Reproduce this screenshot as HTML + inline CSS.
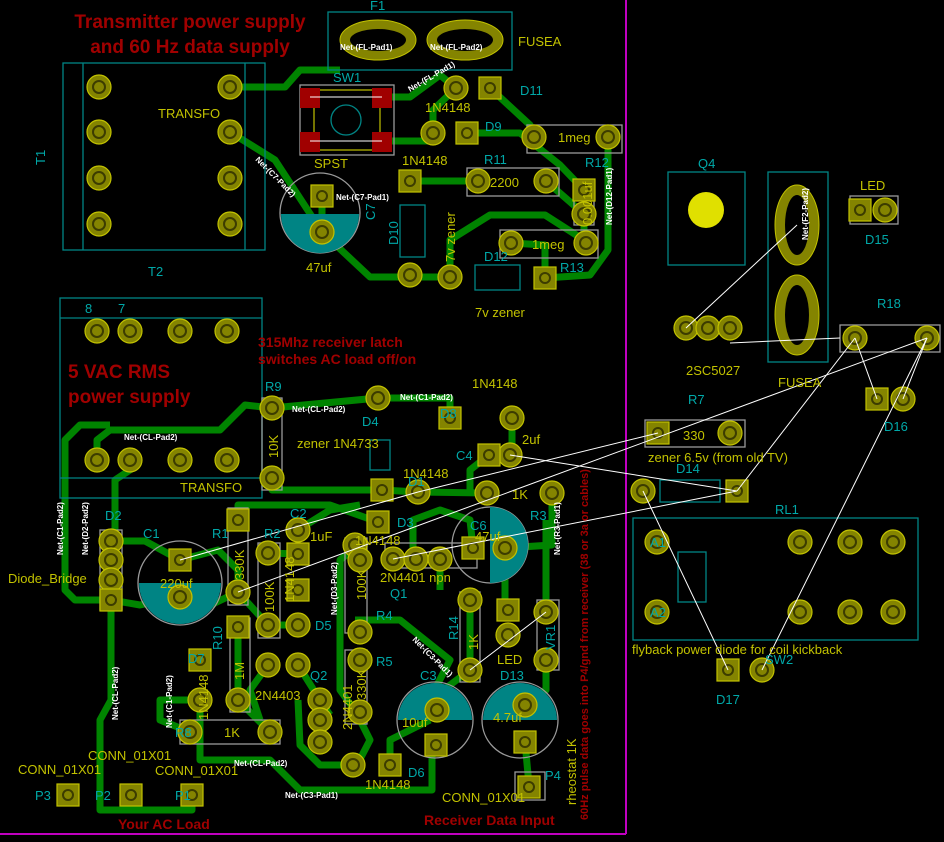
<!DOCTYPE html>
<html><head><meta charset="utf-8"><style>
html,body{margin:0;padding:0;background:#000;}
svg{display:block}
text{font-family:"Liberation Sans",sans-serif;}
.y{fill:#c2c200;font-size:13px}
.c{fill:#00a8a8;font-size:13px}
.r{fill:#a00000;font-size:19px;font-weight:bold}
.rs{fill:#a00000;font-size:14px;font-weight:bold}
.w{fill:#fff;font-size:8px;font-weight:bold}
.t{fill:none;stroke:#008400;stroke-width:7;stroke-linejoin:round}
.o{fill:none;stroke:#008484;stroke-width:1.3}
.g{fill:none;stroke:#9a9a9a;stroke-width:1.3}
.rat{stroke:#fff;stroke-width:1}
</style></head><body>
<svg width="944" height="842" viewBox="0 0 944 842" xmlns="http://www.w3.org/2000/svg">
<defs>
<g id="p"><circle r="12" fill="#848400" stroke="#c2c200" stroke-width="1.2"/><circle r="6" fill="none" stroke="#3c3c00" stroke-width="2"/></g>
<g id="s"><rect x="-11" y="-11" width="22" height="22" fill="#848400" stroke="#c2c200" stroke-width="1.2"/><circle r="5" fill="none" stroke="#3c3c00" stroke-width="2"/></g>
</defs>
<rect width="944" height="842" fill="#000"/>
<!-- board edges -->
<line x1="626" y1="0" x2="626" y2="834" stroke="#c000c0" stroke-width="2"/>
<line x1="0" y1="834" x2="626" y2="834" stroke="#c000c0" stroke-width="2"/>

<!-- traces -->
<g class="t">
<polyline points="230,87 285,87 300,70 340,70"/>
<polyline points="382,97 410,97 440,75 456,88"/>
<polyline points="382,141 433,141 433,110 456,88"/>
<polyline points="490,88 530,125 534,137"/>
<polyline points="467,133 520,133 560,165 584,190"/>
<polyline points="608,137 608,250 590,275 545,278"/>
<polyline points="230,132 275,160 322,232 370,277 450,277 450,240 490,215 545,215 584,240 584,214"/>
<polyline points="410,181 478,181"/>
<polyline points="322,196 322,215"/>
<polyline points="545,278 545,245 511,243"/>
<polyline points="546,181 584,214"/>
<polyline points="97,460 97,440 110,430 220,430 245,405 272,408 378,398"/>
<polyline points="130,460 130,470 115,480 115,560 111,580"/>
<polyline points="65,455 65,590 75,600 111,600"/>
<polyline points="272,478 272,490 382,490 418,492 487,493"/>
<polyline points="378,398 450,398 450,418"/>
<polyline points="512,418 512,445 510,455"/>
<polyline points="489,455 470,470 470,493"/>
<polyline points="552,493 552,545 505,548 505,605"/>
<polyline points="111,541 145,541 180,560 218,550 238,570 238,592"/>
<polyline points="111,600 140,605 180,597 200,610 238,592"/>
<polyline points="238,520 238,505 330,505 378,522"/>
<polyline points="298,530 330,510 360,505"/>
<polyline points="268,553 298,554"/>
<polyline points="238,592 268,625 298,625"/>
<polyline points="355,548 340,560 340,690 356,712"/>
<polyline points="413,555 413,520 440,510 470,520 473,548"/>
<polyline points="440,555 440,590"/>
<polyline points="355,620 400,620 450,660 432,695"/>
<polyline points="470,605 470,670 430,700"/>
<polyline points="546,606 546,520"/>
<polyline points="546,660 546,690 525,700"/>
<polyline points="525,742 529,785"/>
<polyline points="432,745 432,790 300,790 270,760 200,760 200,700"/>
<polyline points="238,627 238,700 270,732"/>
<polyline points="190,732 160,720 160,700 200,700"/>
<polyline points="111,600 111,700 100,720 100,810 192,810 192,795"/>
<polyline points="357,765 320,765 300,745 298,700"/>
<polyline points="390,765 390,740 430,720"/>
<polyline points="356,712 370,740 357,765"/>
<polyline points="268,665 250,690 260,720"/>
<polyline points="298,665 320,700 330,715"/>
<polyline points="65,455 65,440 80,425 110,425"/>
</g>

<!-- outlines -->
<rect class="o" x="63" y="63" width="202" height="187"/>
<line class="o" x1="245" y1="63" x2="245" y2="250"/>
<line class="o" x1="83" y1="63" x2="83" y2="250"/>
<rect class="o" x="60" y="298" width="202" height="200"/>
<line class="o" x1="60" y1="318" x2="262" y2="318"/>
<line class="o" x1="60" y1="478" x2="262" y2="478"/>
<rect class="o" x="328" y="12" width="184" height="58"/>
<rect class="g" x="300" y="85" width="94" height="70"/>
<rect x="314" y="90" width="66" height="60" fill="none" stroke="#c2c200" stroke-width="1.2"/>
<circle class="o" cx="346" cy="120" r="15"/>
<circle class="g" cx="320" cy="213" r="40"/>
<path d="M281,214 A39,39 0 0 0 359,214 Z" fill="#008484"/>
<rect class="o" x="400" y="205" width="25" height="52"/>
<rect class="g" x="467" y="168" width="92" height="28"/>
<rect class="g" x="527" y="125" width="95" height="28"/>
<rect class="g" x="500" y="230" width="98" height="28"/>
<rect class="o" x="475" y="265" width="45" height="25"/>
<rect class="g" x="574" y="180" width="20" height="45"/>
<rect class="o" x="668" y="172" width="77" height="93"/>
<circle cx="706" cy="210" r="18" fill="#e0e000"/>
<rect class="o" x="768" y="172" width="60" height="190"/>
<rect class="g" x="840" y="325" width="100" height="27"/>
<rect class="g" x="850" y="196" width="48" height="28"/>
<rect class="g" x="645" y="420" width="100" height="27"/>
<rect class="o" x="660" y="480" width="60" height="22"/>
<rect class="o" x="633" y="518" width="285" height="122"/>
<rect class="o" x="678" y="552" width="28" height="50"/>
<rect class="g" x="262" y="398" width="20" height="92"/>
<rect class="o" x="370" y="440" width="20" height="30"/>
<rect class="g" x="100" y="530" width="22" height="80"/>
<circle class="g" cx="180" cy="583" r="42"/>
<path d="M139,583 A41,41 0 0 0 221,583 Z" fill="#008484"/>
<rect class="g" x="228" y="508" width="20" height="97"/>
<rect class="g" x="258" y="543" width="22" height="95"/>
<rect class="g" x="345" y="538" width="22" height="95"/>
<rect class="g" x="345" y="650" width="22" height="74"/>
<rect class="g" x="230" y="618" width="20" height="94"/>
<rect class="g" x="180" y="720" width="100" height="24"/>
<rect class="g" x="385" y="543" width="92" height="25"/>
<circle class="g" cx="490" cy="545" r="38"/>
<path d="M490,507 A38,38 0 0 1 490,583 Z" fill="#008484"/>
<rect class="g" x="460" y="592" width="20" height="90"/>
<rect class="g" x="537" y="600" width="22" height="70"/>
<circle class="g" cx="435" cy="720" r="38"/>
<path d="M398,720 A37,37 0 0 1 472,720 Z" fill="#008484"/>
<circle class="g" cx="520" cy="720" r="38"/>
<path d="M483,720 A37,37 0 0 1 557,720 Z" fill="#008484"/>
<rect class="g" x="515" y="772" width="30" height="28"/>

<!-- fuse pads -->
<ellipse cx="378" cy="40" rx="38" ry="20" fill="#848400" stroke="#c2c200"/>
<ellipse cx="378" cy="40" rx="28" ry="11" fill="#000"/>
<ellipse cx="465" cy="40" rx="38" ry="20" fill="#848400" stroke="#c2c200"/>
<ellipse cx="465" cy="40" rx="28" ry="11" fill="#000"/>
<ellipse cx="797" cy="225" rx="22" ry="40" fill="#848400" stroke="#c2c200"/>
<ellipse cx="797" cy="225" rx="12" ry="30" fill="#000"/>
<ellipse cx="797" cy="315" rx="22" ry="40" fill="#848400" stroke="#c2c200"/>
<ellipse cx="797" cy="315" rx="12" ry="30" fill="#000"/>
<!-- switch pads -->
<g fill="#a00000"><rect x="300" y="88" width="20" height="20"/><rect x="372" y="88" width="20" height="20"/><rect x="300" y="132" width="20" height="20"/><rect x="372" y="132" width="20" height="20"/></g>

<!-- round pads -->
<g>
<use href="#p" x="99" y="87"/><use href="#p" x="99" y="132"/><use href="#p" x="99" y="178"/><use href="#p" x="99" y="224"/>
<use href="#p" x="230" y="87"/><use href="#p" x="230" y="132"/><use href="#p" x="230" y="178"/><use href="#p" x="230" y="224"/>
<use href="#p" x="456" y="88"/><use href="#p" x="433" y="133"/><use href="#p" x="478" y="181"/><use href="#p" x="546" y="181"/>
<use href="#p" x="534" y="137"/><use href="#p" x="608" y="137"/><use href="#p" x="584" y="214"/>
<use href="#p" x="511" y="243"/><use href="#p" x="586" y="243"/><use href="#p" x="322" y="232"/>
<use href="#p" x="410" y="275"/><use href="#p" x="450" y="277"/>
<use href="#p" x="686" y="328"/><use href="#p" x="708" y="328"/><use href="#p" x="730" y="328"/>
<use href="#p" x="885" y="210"/><use href="#p" x="855" y="338"/><use href="#p" x="927" y="338"/><use href="#p" x="903" y="399"/>
<use href="#p" x="730" y="433"/><use href="#p" x="643" y="491"/>
<use href="#p" x="657" y="542"/><use href="#p" x="657" y="612"/><use href="#p" x="800" y="542"/><use href="#p" x="850" y="542"/><use href="#p" x="893" y="542"/>
<use href="#p" x="800" y="612"/><use href="#p" x="850" y="612"/><use href="#p" x="893" y="612"/><use href="#p" x="762" y="670"/>
<use href="#p" x="97" y="331"/><use href="#p" x="130" y="331"/><use href="#p" x="180" y="331"/><use href="#p" x="227" y="331"/>
<use href="#p" x="97" y="460"/><use href="#p" x="130" y="460"/><use href="#p" x="180" y="460"/><use href="#p" x="227" y="460"/>
<use href="#p" x="272" y="408"/><use href="#p" x="272" y="478"/><use href="#p" x="378" y="398"/><use href="#p" x="512" y="418"/>
<use href="#p" x="510" y="455"/><use href="#p" x="418" y="492"/><use href="#p" x="487" y="493"/><use href="#p" x="552" y="493"/>
<use href="#p" x="505" y="548"/><use href="#p" x="111" y="541"/><use href="#p" x="111" y="560"/><use href="#p" x="111" y="580"/>
<use href="#p" x="180" y="597"/><use href="#p" x="238" y="592"/><use href="#p" x="268" y="553"/><use href="#p" x="268" y="625"/>
<use href="#p" x="298" y="530"/><use href="#p" x="355" y="545"/><use href="#p" x="393" y="559"/><use href="#p" x="416" y="559"/><use href="#p" x="440" y="559"/>
<use href="#p" x="360" y="560"/><use href="#p" x="360" y="632"/><use href="#p" x="298" y="625"/><use href="#p" x="238" y="700"/>
<use href="#p" x="268" y="665"/><use href="#p" x="298" y="665"/><use href="#p" x="320" y="700"/><use href="#p" x="320" y="720"/><use href="#p" x="320" y="742"/>
<use href="#p" x="360" y="660"/><use href="#p" x="360" y="712"/><use href="#p" x="200" y="700"/><use href="#p" x="190" y="732"/><use href="#p" x="270" y="732"/>
<use href="#p" x="353" y="765"/><use href="#p" x="470" y="600"/><use href="#p" x="470" y="670"/><use href="#p" x="508" y="635"/><use href="#p" x="546" y="660"/>
<use href="#p" x="546" y="612"/><use href="#p" x="437" y="710"/><use href="#p" x="525" y="705"/>
</g>
<!-- square pads -->
<g>
<use href="#s" x="490" y="88"/><use href="#s" x="467" y="133"/><use href="#s" x="410" y="181"/><use href="#s" x="322" y="196"/>
<use href="#s" x="584" y="190"/><use href="#s" x="545" y="278"/><use href="#s" x="860" y="210"/><use href="#s" x="877" y="399"/>
<use href="#s" x="658" y="433"/><use href="#s" x="737" y="491"/><use href="#s" x="728" y="670"/>
<use href="#s" x="450" y="418"/><use href="#s" x="489" y="455"/><use href="#s" x="382" y="490"/><use href="#s" x="473" y="548"/>
<use href="#s" x="111" y="600"/><use href="#s" x="180" y="560"/><use href="#s" x="238" y="520"/><use href="#s" x="298" y="554"/>
<use href="#s" x="378" y="522"/><use href="#s" x="298" y="590"/><use href="#s" x="238" y="627"/><use href="#s" x="200" y="660"/>
<use href="#s" x="390" y="765"/><use href="#s" x="508" y="610"/><use href="#s" x="436" y="745"/><use href="#s" x="525" y="742"/>
<use href="#s" x="529" y="787"/><use href="#s" x="192" y="795"/><use href="#s" x="131" y="795"/><use href="#s" x="68" y="795"/>
</g>

<!-- ratsnest -->
<g class="rat">
<line x1="686" y1="328" x2="797" y2="225"/><line x1="730" y1="343" x2="840" y2="338"/>
<line x1="855" y1="338" x2="877" y2="399"/><line x1="927" y1="338" x2="903" y2="399"/>
<line x1="855" y1="338" x2="737" y2="491"/><line x1="927" y1="338" x2="762" y2="670"/>
<line x1="658" y1="433" x2="418" y2="492"/><line x1="737" y1="491" x2="510" y2="455"/>
<line x1="643" y1="491" x2="728" y2="670"/><line x1="737" y1="491" x2="393" y2="559"/>
<line x1="927" y1="338" x2="238" y2="592"/><line x1="180" y1="560" x2="418" y2="492"/>
<line x1="546" y1="612" x2="470" y2="670"/><line x1="310" y1="97" x2="382" y2="97" stroke="#fff"/><line x1="310" y1="141" x2="382" y2="141"/>
</g>

<!-- net labels -->
<g class="w">
<text x="336" y="200">Net-(C7-Pad1)</text>
<text x="292" y="412">Net-(CL-Pad2)</text>
<text x="124" y="440">Net-(CL-Pad2)</text>
<text x="400" y="400">Net-(C1-Pad2)</text>
<text x="234" y="766">Net-(CL-Pad2)</text>
<text x="285" y="798">Net-(C3-Pad1)</text>
<text transform="translate(63,555) rotate(-90)">Net-(C1-Pad2)</text>
<text transform="translate(88,555) rotate(-90)">Net-(D2-Pad2)</text>
<text transform="translate(118,720) rotate(-90)">Net-(CL-Pad2)</text>
<text transform="translate(172,728) rotate(-90)">Net-(C1-Pad2)</text>
<text transform="translate(337,615) rotate(-90)">Net-(D3-Pad2)</text>
<text transform="translate(560,555) rotate(-90)">Net-(R3-Pad1)</text>
<text transform="translate(612,225) rotate(-90)">Net-(D12-Pad1)</text>
<text transform="translate(808,240) rotate(-90)">Net-(F2-Pad2)</text>
<text transform="translate(255,160) rotate(45)">Net-(C7-Pad2)</text>
<text transform="translate(410,92) rotate(-30)">Net-(FL-Pad1)</text>
<text transform="translate(412,640) rotate(45)">Net-(C3-Pad1)</text>
<text x="340" y="50">Net-(FL-Pad1)</text>
<text x="430" y="50">Net-(FL-Pad2)</text>
</g>

<!-- red titles -->
<text class="r" x="190" y="28" text-anchor="middle">Transmitter power supply</text>
<text class="r" x="190" y="53" text-anchor="middle">and 60 Hz data supply</text>
<text class="r" x="68" y="378">5 VAC RMS</text>
<text class="r" x="68" y="403">power supply</text>
<text class="rs" x="258" y="347">315Mhz receiver latch</text>
<text class="rs" x="258" y="364">switches AC load off/on</text>
<text class="rs" x="118" y="829">Your AC Load</text>
<text class="rs" x="424" y="825">Receiver Data Input</text>
<text class="rs" style="font-size:11px" transform="translate(588,820) rotate(-90)">60Hz pulse data goes into P4/gnd from receiver (38 or 3a or cables)</text>

<!-- yellow labels -->
<g class="y">
<text x="158" y="118">TRANSFO</text><text x="518" y="46">FUSEA</text>
<text x="425" y="112">1N4148</text><text x="402" y="165">1N4148</text><text x="314" y="168">SPST</text>
<text x="490" y="187">2200</text><text x="558" y="142">1meg</text><text x="532" y="249">1meg</text>
<text x="306" y="272">47uf</text><text x="475" y="317">7v zener</text>
<text transform="translate(455,262) rotate(-90)">7v zener</text>
<text transform="translate(592,225) rotate(-90)">0.001uf</text>
<text x="686" y="375">2SC5027</text><text x="778" y="387">FUSEA</text><text x="860" y="190">LED</text>
<text x="683" y="440">330</text><text x="648" y="462">zener 6.5v (from old TV)</text>
<text x="632" y="654">flyback power diode for coil kickback</text>
<text x="180" y="492">TRANSFO</text>
<text x="297" y="448">zener 1N4733</text><text x="472" y="388">1N4148</text><text x="522" y="444">2uf</text>
<text x="403" y="478">1N4148</text><text x="512" y="499">1K</text><text x="475" y="541">47uf</text>
<text x="310" y="541">1uF</text><text x="355" y="545">1N4148</text><text x="380" y="582">2N4401 npn</text>
<text x="8" y="583">Diode_Bridge</text><text x="160" y="588">220uf</text>
<text transform="translate(244,580) rotate(-90)">330K</text>
<text transform="translate(274,612) rotate(-90)">100K</text>
<text transform="translate(366,600) rotate(-90)">100K</text>
<text transform="translate(366,700) rotate(-90)">330K</text>
<text transform="translate(352,730) rotate(-90)">2N4401</text>
<text transform="translate(278,458) rotate(-90)">10K</text>
<text transform="translate(244,680) rotate(-90)">1M</text>
<text transform="translate(294,602) rotate(-90)">1N4148</text>
<text transform="translate(208,720) rotate(-90)">1N4148</text>
<text transform="translate(478,650) rotate(-90)">1K</text>
<text x="255" y="700">2N4403</text><text x="224" y="737">1K</text>
<text x="402" y="727">10uf</text><text x="493" y="722">4.7uf</text>
<text x="497" y="664">LED</text><text x="365" y="789">1N4148</text>
<text transform="translate(576,805) rotate(-90)">rheostat 1K</text>
<text x="18" y="774">CONN_01X01</text><text x="88" y="760">CONN_01X01</text><text x="155" y="775">CONN_01X01</text><text x="442" y="802">CONN_01X01</text>
</g>
<!-- cyan refs -->
<g class="c">
<text x="370" y="10">F1</text><text x="333" y="82">SW1</text><text x="520" y="95">D11</text><text x="485" y="131">D9</text>
<text x="484" y="164">R11</text><text x="585" y="167">R12</text><text transform="translate(398,245) rotate(-90)">D10</text>
<text transform="translate(375,220) rotate(-90)">C7</text><text x="484" y="261">D12</text><text x="560" y="272">R13</text>
<text transform="translate(45,165) rotate(-90)">T1</text><text x="148" y="276">T2</text>
<text x="698" y="168">Q4</text><text x="865" y="244">D15</text><text x="877" y="308">R18</text><text x="884" y="431">D16</text>
<text x="688" y="404">R7</text><text x="676" y="473">D14</text><text x="775" y="514">RL1</text>
<text x="650" y="547">A1</text><text x="650" y="617">A2</text><text x="716" y="704">D17</text><text x="765" y="664">SW2</text>
<text x="265" y="391">R9</text><text x="362" y="426">D4</text><text x="440" y="418">D8</text><text x="456" y="460">C4</text>
<text x="408" y="486">D1</text><text x="530" y="520">R3</text><text x="470" y="530">C6</text><text x="105" y="520">D2</text>
<text x="143" y="538">C1</text><text x="212" y="538">R1</text><text x="264" y="538">R2</text><text x="290" y="518">C2</text>
<text x="397" y="527">D3</text><text x="390" y="598">Q1</text><text x="376" y="620">R4</text><text x="376" y="666">R5</text>
<text x="315" y="630">D5</text><text x="310" y="680">Q2</text><text x="188" y="663">D7</text><text x="175" y="737">R8</text>
<text x="420" y="680">C3</text><text x="500" y="680">D13</text><text x="408" y="777">D6</text><text x="545" y="780">P4</text>
<text x="175" y="800">P1</text><text x="95" y="800">P2</text><text x="35" y="800">P3</text>
<text transform="translate(222,650) rotate(-90)">R10</text><text transform="translate(458,640) rotate(-90)">R14</text>
<text transform="translate(555,650) rotate(-90)">VR1</text>
<text x="85" y="313">8</text><text x="118" y="313">7</text>
</g>
</svg>
</body></html>
